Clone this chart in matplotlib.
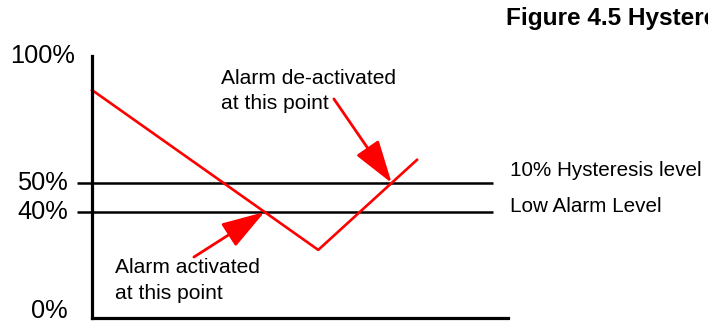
import numpy as np
import matplotlib
matplotlib.use("Agg")
import matplotlib.pyplot as plt

plt.rcParams['font.family'] = ['Liberation Sans', 'DejaVu Sans']

# schematic level axis (%): not linear, the 40-50 band is stretched
level_ticks = [0, 40, 50, 100]
level_tick_labels = ["0%", "40%", "50%", "100%"]
level_px = [0, 106, 135, 262]   # height of each level above the x axis in the drawing

# process value (time units, %)
pv_time = [0.0, 5.64, 8.10]
pv_level = [86.6, 25.7, 59.1]

low_alarm = 40
hyst_level = 50
line_end = 10.0

# arrows: (tail x, tail y) -> (tip x, tip y)
act_tail = (2.54, 23.0)
act_tip = (4.30, 40)
deact_tail = (6.03, 83.1)
deact_tip = (7.47, 50)


def fwd(v):
    return np.interp(v, [-1000] + level_ticks + [1100],
                     [-1000 * 2.65] + level_px + [262 + 1000 * 2.54])


def inv(p):
    return np.interp(p, [-1000 * 2.65] + level_px + [262 + 1000 * 2.54],
                     [-1000] + level_ticks + [1100])


fig = plt.figure(figsize=(7.08, 3.22), dpi=100)
ax = fig.add_axes([92 / 708, 4 / 322, 416 / 708, 262 / 322])
ax.set_yscale('function', functions=(fwd, inv))
ax.set_xlim(0, 10.37)
ax.set_ylim(0, 100)

for s in ['top', 'right']:
    ax.spines[s].set_visible(False)
for s in ['left', 'bottom']:
    ax.spines[s].set_linewidth(2.3)
    ax.spines[s].set_capstyle('projecting')
ax.set_xticks([])
ax.set_yticks([])

# level lines
for lv in [hyst_level, low_alarm]:
    ax.plot([-0.37, line_end], [lv, lv], color='black', lw=1.8, clip_on=False,
            solid_capstyle='butt')

ax.plot(pv_time, pv_level, color='red', lw=1.9, clip_on=False)

# level labels left of axis
offsets = {"0%": (-24, 7), "40%": (-24, 0), "50%": (-24, 0), "100%": (-17, 0)}
for v, lbl in zip(level_ticks, level_tick_labels):
    dx, dy = offsets[lbl]
    ax.annotate(lbl, xy=(0, v), xytext=(dx, dy), textcoords='offset pixels',
                ha='right', va='center', fontsize=18.3, annotation_clip=False)

arrow_style = '-|>,head_length=1.33,head_width=0.42'
ax.annotate("", xy=act_tip, xytext=act_tail,
            arrowprops=dict(arrowstyle=arrow_style, color='red', lw=2.0,
                            mutation_scale=20, shrinkA=0, shrinkB=0))
ax.annotate("", xy=deact_tip, xytext=deact_tail,
            arrowprops=dict(arrowstyle=arrow_style, color='red', lw=2.0,
                            mutation_scale=20, shrinkA=0, shrinkB=0))

ax.text(3.22, 95.0, "Alarm de-activated\nat this point", ha='left', va='top',
        fontsize=15.1, linespacing=1.45, clip_on=False)
ax.text(0.57, 22.5, "Alarm activated\nat this point", ha='left', va='top',
        fontsize=15.1, linespacing=1.45, clip_on=False)

ax.text(10.42, 55.1, "10% Hysteresis level", ha='left', va='center',
        fontsize=14.9, clip_on=False)
ax.text(10.42, 41.9, "Low Alarm Level", ha='left', va='center',
        fontsize=14.9, clip_on=False)

fig.text(506 / 708, 1 - 25 / 322, "Figure 4.5 Hysteresis", ha='left',
         va='baseline', fontsize=17.6, fontweight='bold')

fig.savefig("out.png", dpi=100)
